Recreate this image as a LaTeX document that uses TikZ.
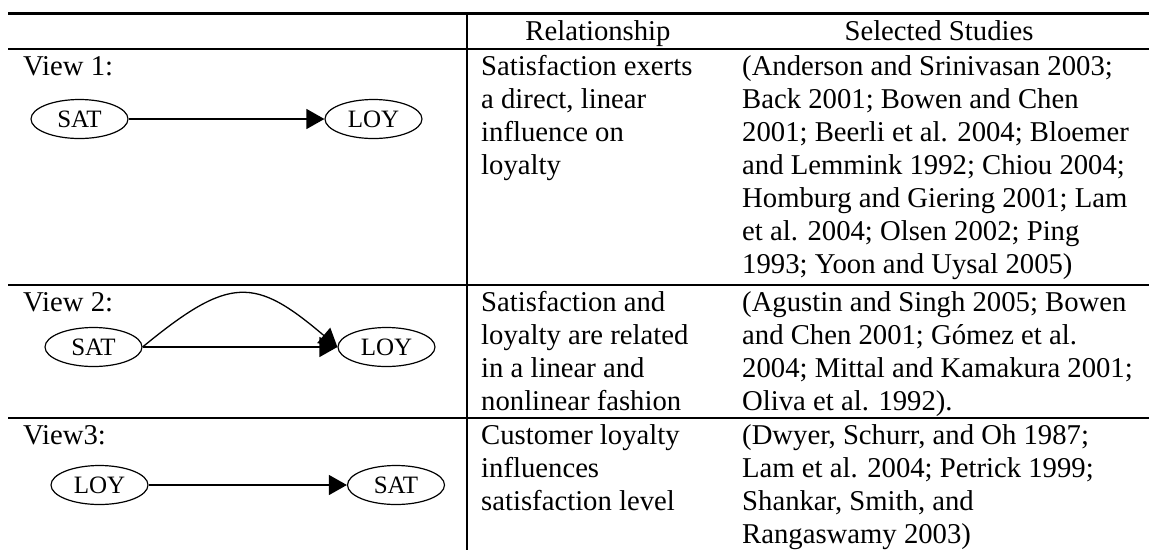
\documentclass[tikz,border=0pt]{standalone}
\usepackage{fontspec}
\setmainfont{Liberation Serif}
\usetikzlibrary{shapes.geometric,arrows.meta}
\tikzset{
  txt/.style={inner sep=0pt, anchor=base west, font=\fontsize{28.7}{33}\selectfont},
  head/.style={inner sep=0pt, anchor=base, font=\fontsize{28.7}{33}\selectfont},
  ell/.style={draw, ellipse, minimum width=97pt, minimum height=39pt, inner sep=0pt,
              line width=1.2pt, font=\fontsize{25}{25}\selectfont},
  arr/.style={-{Triangle[length=18pt,width=20pt]}, line width=1.3pt},
  thickrule/.style={line width=3pt},
  thinrule/.style={line width=1.6pt}
}
\begin{document}
\begin{tikzpicture}[x=1pt,y=-1pt]
\useasboundingbox (0,0) rectangle (1149,550);
% rules
\coordinate (tl) at (8,13);   \coordinate (tr) at (1149,13);
\coordinate (hl) at (8,49);   \coordinate (hr) at (1149,49);
\coordinate (al) at (8,285);  \coordinate (ar) at (1149,285);
\coordinate (bl) at (8,418);  \coordinate (br) at (1149,418);
\coordinate (vt) at (467,13); \coordinate (vb) at (467,550);
\draw[thickrule] (tl) -- (tr);
\draw[thinrule] (hl) -- (hr);
\draw[thinrule] (al) -- (ar);
\draw[thinrule] (bl) -- (br);
\draw[thinrule] (vt) -- (vb);
% headers
\node[head] (h1) at (598,40) {Relationship};
\node[head] (h2) at (939,40) {Selected Studies};
% view labels
\node[txt] (v1) at (23,75) {View 1:};
\node[txt] (v2) at (23,311) {View 2:};
\node[txt] (v3) at (23,444) {View3:};
% diagrams
\node[ell] (s1) at (79.5,119) {SAT};
\node[ell] (l1) at (373.5,119) {LOY};
\draw[arr] (s1.east) -- (l1.west);
\node[ell] (s2) at (93.5,347) {SAT};
\node[ell] (l2) at (386.5,347) {LOY};
\draw[arr] (s2.east) -- (l2.west);
\draw[arr] (s2.east) .. controls (230,275) and (255,277) .. (l2.west);
\node[ell] (l3) at (99.5,485) {LOY};
\node[ell] (s3) at (396,485) {SAT};
\draw[arr] (l3.east) -- (s3.west);
% relationship column
\foreach \t [count=\i from 0] in {{Satisfaction exerts},{a direct, linear},{influence on},{loyalty}}
  \node[txt] (ra\i) at (481,75+33*\i) {\t};
\foreach \t [count=\i from 0] in {{Satisfaction and},{loyalty are related},{in a linear and},{nonlinear fashion}}
  \node[txt] (rb\i) at (481,311+33*\i) {\t};
\foreach \t [count=\i from 0] in {{Customer loyalty},{influences},{satisfaction level}}
  \node[txt] (rc\i) at (481,444+33*\i) {\t};
% studies column
\foreach \t [count=\i from 0] in {{(Anderson and Srinivasan 2003;},{Back 2001; Bowen and Chen},{2001; Beerli et al. 2004; Bloemer},{and Lemmink 1992; Chiou 2004;},{Homburg and Giering 2001; Lam},{et al. 2004; Olsen 2002; Ping},{1993; Yoon and Uysal 2005)}}
  \node[txt] (sa\i) at (742,75+33*\i) {\t};
\foreach \t [count=\i from 0] in {{(Agustin and Singh 2005; Bowen},{and Chen 2001; Gómez et al.},{2004; Mittal and Kamakura 2001;},{Oliva et al. 1992).}}
  \node[txt] (sb\i) at (742,311+33*\i) {\t};
\foreach \t [count=\i from 0] in {{(Dwyer, Schurr, and Oh 1987;},{Lam et al. 2004; Petrick 1999;},{Shankar, Smith, and},{Rangaswamy 2003)}}
  \node[txt] (sc\i) at (742,444+33*\i) {\t};
\end{tikzpicture}
\end{document}
